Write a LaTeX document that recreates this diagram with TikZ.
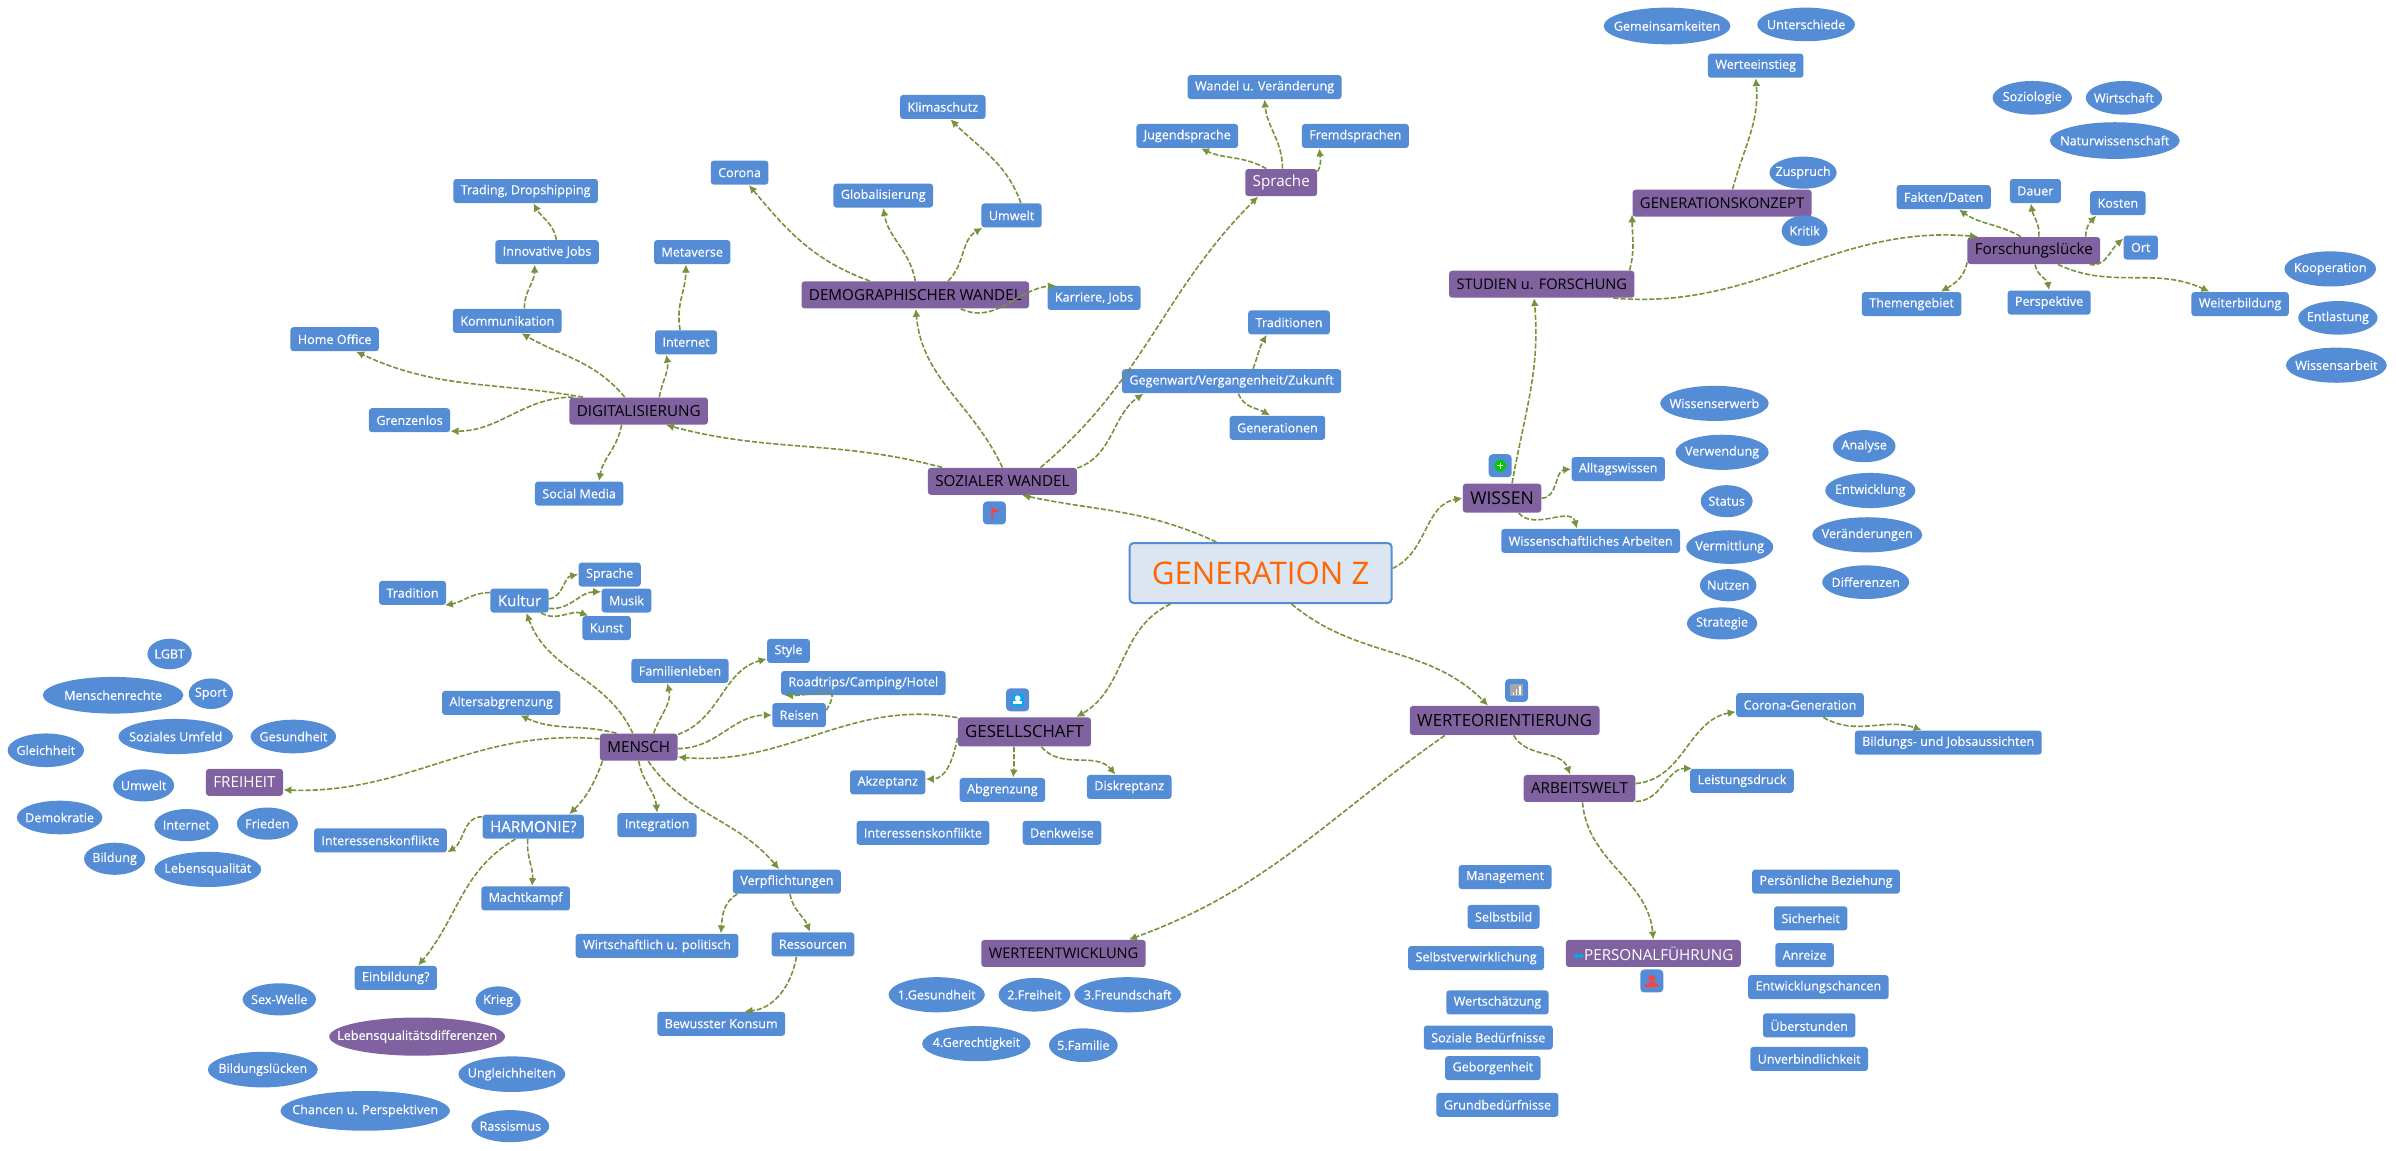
\documentclass[tikz,border=0pt]{standalone}
\usepackage{fontspec}
\setmainfont{Open Sans}[BoldFont={Open Sans}, BoldFeatures={FakeBold=0.4}]
\newfontfamily\symfont{DejaVu Sans}
\usetikzlibrary{shapes.geometric, arrows.meta}
\definecolor{myblue}{RGB}{85, 140, 214}
\definecolor{mypurple}{RGB}{128, 98, 160}
\definecolor{mygreen}{RGB}{118, 146, 60}
\definecolor{myroot}{RGB}{220, 230, 242}
\definecolor{myorange}{RGB}{255, 102, 0}
\definecolor{mycyan}{RGB}{0, 170, 240}
\tikzset{>={Latex[length=4pt,width=4pt]}}
\tikzset{
  box/.style={fill=myblue, rounded corners=1.5pt, text=white, font=\fontsize{6.3}{8}\selectfont\bfseries, minimum height=12pt, inner xsep=3.7pt, inner ysep=0pt},
  bigbox/.style={box, font=\fontsize{7.6}{9}\selectfont\bfseries},
  mainbox/.style={fill=mypurple, rounded corners=1.5pt, text=black, font=\fontsize{7.6}{9}\selectfont, minimum height=13.5pt, inner xsep=3.7pt, inner ysep=0pt},
  bigmain/.style={mainbox, font=\fontsize{8.4}{10}\selectfont, minimum height=14.5pt},
  oval/.style 2 args={ellipse, fill=myblue, text=white, font=\fontsize{6.3}{8}\selectfont\bfseries, inner xsep=-40pt, inner ysep=-12pt, minimum width=#1*0.764pt, minimum height=#2*0.764pt},
  icon/.style={fill=myblue, rounded corners=2pt, minimum size=11.5pt, inner sep=0pt},
  link/.style={->, mygreen, line width=0.8pt, dash pattern=on 2.6pt off 1pt},
}
\begin{document}
\begin{tikzpicture}[x=0.764pt, y=-0.764pt]
\useasboundingbox (0pt,0pt) rectangle (1198pt,-575pt);

\node[fill=myroot, draw=myblue, line width=1pt, rounded corners=2pt, text=myorange, font=\fontsize{15.6}{18}\selectfont, minimum width=131pt, minimum height=30pt] (root) at (825,375) {GENERATION Z};

\node[mainbox] (soz) at (656,315) {SOZIALER WANDEL};
\node[mainbox] (dig) at (418,269) {DIGITALISIERUNG};
\node[mainbox] (dem) at (599,193) {DEMOGRAPHISCHER WANDEL};
\node[mainbox, text=white] (spr) at (838.5,119.5) {Sprache};
\node[mainbox, font=\fontsize{7.3}{9}\selectfont] (stud) at (1009,186) {STUDIEN u. FORSCHUNG};
\node[mainbox, font=\fontsize{7.4}{9}\selectfont] (konz) at (1127,133) {GENERATIONSKONZEPT};
\node[mainbox] (fors) at (1331,164) {Forschungslücke};
\node[bigmain, font=\fontsize{8.8}{10}\selectfont] (wis) at (983,326) {WISSEN};
\node[bigmain] (wert) at (984.7,471.5) {WERTEORIENTIERUNG};
\node[mainbox] (arb) at (1033.7,516) {ARBEITSWELT};
\node[mainbox, text=white] (pers) at (1082,624) {{\symfont\textcolor{mycyan}{\fontsize{6.5}{8}\selectfont ⬅}}PERSONALFÜHRUNG};
\node[mainbox, font=\fontsize{7.3}{9}\selectfont] (entw) at (696,624) {WERTEENTWICKLUNG};
\node[bigmain] (ges) at (670.4,479) {GESELLSCHAFT};
\node[mainbox] (men) at (418,489) {MENSCH};
\node[mainbox, text=white] (frei) at (160,512) {FREIHEIT};

\node[box] (klima) at (617,70) {Klimaschutz};
\node[box] (cor) at (484,113) {Corona};
\node[box] (glob) at (578,128) {Globalisierung};
\node[box] (umw) at (662,141) {Umwelt};
\node[box] (kar) at (716,195) {Karriere, Jobs};
\node[box] (wan) at (827.6,57) {Wandel u. Veränderung};
\node[box] (jug) at (777,89) {Jugendsprache};
\node[box] (fre) at (887,89) {Fremdsprachen};
\node[box] (tra) at (843.6,211) {Traditionen};
\node[box] (geg) at (806,249.5) {Gegenwart/Vergangenheit/Zukunft};
\node[box] (gen) at (836,280) {Generationen};
\node[box] (ein) at (1149,43) {Werteeinstieg};
\node[box] (fak) at (1272,129) {Fakten/Daten};
\node[box] (dau) at (1332,125) {Dauer};
\node[box] (kos) at (1386,133) {Kosten};
\node[box] (ort) at (1401,162) {Ort};
\node[box] (the) at (1251,199) {Themengebiet};
\node[box] (per) at (1341,198) {Perspektive};
\node[box] (wei) at (1466,199) {Weiterbildung};
\node[box] (all) at (1059,307) {Alltagswissen};
\node[box] (arbe) at (1041,354) {Wissenschaftliches Arbeiten};
\node[box] (trd) at (344,125) {Trading, Dropshipping};
\node[box] (inn) at (358,165) {Innovative Jobs};
\node[box] (met) at (453,165) {Metaverse};
\node[box] (kom) at (332,210) {Kommunikation};
\node[box] (int) at (449,224) {Internet};
\node[box] (hom) at (219,222) {Home Office};
\node[box] (gre) at (268,275) {Grenzenlos};
\node[box] (soc) at (379,323) {Social Media};
\node[box] (tdn) at (270,388) {Tradition};
\node[bigbox] (kul) at (340,393) {Kultur};
\node[box] (spa) at (399,376) {Sprache};
\node[box] (mus) at (410,393) {Musik};
\node[box] (kun) at (397,411) {Kunst};
\node[box] (sty) at (516,426) {Style};
\node[box] (fam) at (445,439) {Familienleben};
\node[box] (roa) at (565,447) {Roadtrips/Camping/Hotel};
\node[box] (rei) at (523,468) {Reisen};
\node[box] (alt) at (328,460) {Altersabgrenzung};
\node[box] (akz) at (581,512) {Akzeptanz};
\node[box] (abg) at (656,517) {Abgrenzung};
\node[box] (dis) at (739,515) {Diskreptanz};
\node[box] (ikg) at (604,545) {Interessenskonflikte};
\node[box] (den) at (695,545) {Denkweise};
\node[box] (ikh) at (249,550) {Interessenskonflikte};
\node[bigbox] (har) at (349,541) {HARMONIE?};
\node[box] (ing) at (430,540) {Integration};
\node[box] (mac) at (344,588) {Machtkampf};
\node[box] (ver) at (515,577) {Verpflichtungen};
\node[box] (wir) at (430,619) {Wirtschaftlich u. politisch};
\node[box] (res) at (532,618) {Ressourcen};
\node[box] (bil) at (259,640) {Einbildung?};
\node[box] (bew) at (472,670) {Bewusster Konsum};
\node[box] (cog) at (1178,461.4) {Corona-Generation\ };
\node[box] (job) at (1275,486) {Bildungs- und Jobsaussichten};
\node[box] (lei) at (1140,511) {Leistungsdruck};
\node[box] (man) at (985,574) {Management};
\node[box] (sel) at (984,600) {Selbstbild};
\node[box] (svw) at (966,627) {Selbstverwirklichung};
\node[box] (wsc) at (980,656) {Wertschätzung};
\node[box] (sob) at (974,679) {Soziale Bedürfnisse};
\node[box] (geb) at (977,699) {Geborgenheit};
\node[box] (gru) at (980,723) {Grundbedürfnisse};
\node[box] (pbz) at (1195,577) {Persönliche Beziehung};
\node[box] (sic) at (1185,601) {Sicherheit};
\node[box] (anr) at (1181,625) {Anreize};
\node[box] (ewc) at (1190,646) {Entwicklungschancen};
\node[box] (ube) at (1184,671) {Überstunden};
\node[box] (unv) at (1184,693) {Unverbindlichkeit};

\node[oval={83}{24}] (o1) at (1091,17) {Gemeinsamkeiten};
\node[oval={64}{22}] (o2) at (1182,16) {Unterschiede};
\node[oval={44}{21}] (o3) at (1180,113) {Zuspruch};
\node[oval={30}{20}] (o4) at (1181,151) {Kritik};
\node[oval={52}{22}] (o5) at (1330,64) {Soziologie};
\node[oval={50}{22}] (o6) at (1390,64) {Wirtschaft};
\node[oval={85}{24}] (o7) at (1384,92) {Naturwissenschaft};
\node[oval={60}{23}] (o8) at (1525,176) {Kooperation};
\node[oval={52}{22}] (o9) at (1530,208) {Entlastung};
\node[oval={66}{23}] (o10) at (1529,239) {Wissensarbeit};
\node[oval={71}{23}] (o11) at (1122,264) {Wissenserwerb};
\node[oval={61}{23}] (o12) at (1127,296) {Verwendung};
\node[oval={34}{21}] (o13) at (1130,328) {Status};
\node[oval={57}{22}] (o14) at (1132,358) {Vermittlung};
\node[oval={37}{21}] (o15) at (1131,383) {Nutzen};
\node[oval={46}{21}] (o16) at (1127,408) {Strategie};
\node[oval={41}{21}] (o17) at (1220,292) {Analyse};
\node[oval={59}{23}] (o18) at (1224,321) {Entwicklung};
\node[oval={72}{23}] (o19) at (1222,350) {Veränderungen};
\node[oval={57}{22}] (o20) at (1221,381) {Differenzen};
\node[oval={29}{20}] (o21) at (111,428) {LGBT};
\node[oval={92}{24}] (o22) at (74,455) {Menschenrechte};
\node[oval={29}{20}] (o23) at (138,454) {Sport};
\node[oval={56}{22}] (o24) at (192,482) {Gesundheit};
\node[oval={75}{23}] (o25) at (115,482) {Soziales Umfeld};
\node[oval={50}{22}] (o26) at (30,491) {Gleichheit};
\node[oval={40}{21}] (o27) at (94,514) {Umwelt};
\node[oval={56}{22}] (o28) at (39,535) {Demokratie};
\node[oval={42}{21}] (o29) at (122,540) {Internet};
\node[oval={40}{21}] (o30) at (175,539) {Frieden};
\node[oval={40}{21}] (o31) at (75,562) {Bildung};
\node[oval={70}{23}] (o32) at (136,569) {Lebensqualität};
\node[oval={48}{21}] (o33) at (182.8,654) {Sex-Welle};
\node[oval={29.5}{19}] (o34) at (326,655) {Krieg};
\node[oval={115}{25}, fill=mypurple] (o35) at (273,678.4) {Lebensqualitätsdifferenzen};
\node[oval={72}{23.3}] (o36) at (172,700) {Bildungslücken};
\node[oval={70}{23.3}] (o37) at (335,703) {Ungleichheiten};
\node[oval={110.8}{26}] (o38) at (239,727) {Chancen u. Perspektiven};
\node[oval={51}{21}] (o39) at (334,737) {Rassismus};
\node[oval={63}{23}] (o40) at (613,651) {1.Gesundheit};
\node[oval={47}{22}] (o41) at (677,651) {2.Freiheit};
\node[oval={70}{23}] (o42) at (738,651) {3.Freundschaft};
\node[oval={71}{23}] (o43) at (639,683) {4.Gerechtigkeit};
\node[oval={45}{22}] (o44) at (709,684) {5.Familie};

\node[icon] (icsoz) at (650.8,335.7) {};
\node[icon] (icges) at (666,458) {};
\node[icon] (icwis) at (981.8,304.8) {};
\node[icon] (icwert) at (992.5,451.8) {};
\node[icon] (icpers) at (1081,642) {};
\fill[red!75!white] ([shift={(-2,-4)}]icsoz.center) -- ++(1,0) -- ++(0,1) -- ++(4.5,1.5) -- ++(-4.5,1.5) -- ++(0,4) -- ++(-1,0) -- cycle;
\fill[mycyan] ([shift={(-4,-4)}]icges.center) rectangle ([shift={(4,4)}]icges.center);
\fill[white] ([shift={(0,-1)}]icges.center) circle [radius=1.9];
\fill[white] ([shift={(-3,3)}]icges.center) rectangle ([shift={(3,1)}]icges.center);
\fill[green!80!black] (icwis.center) circle [radius=3.8];
\draw[white, line width=0.6pt] ([shift={(-2,0)}]icwis.center) -- ([shift={(2,0)}]icwis.center) ([shift={(0,-2)}]icwis.center) -- ([shift={(0,2)}]icwis.center);
\fill[gray!70] ([shift={(-4,-4)}]icwert.center) rectangle ([shift={(4,4)}]icwert.center);
\fill[white] ([shift={(-2.6,3)}]icwert.center) rectangle ([shift={(-1.4,1.2)}]icwert.center);
\fill[white] ([shift={(-0.6,3)}]icwert.center) rectangle ([shift={(0.6,-0.6)}]icwert.center);
\fill[white] ([shift={(1.4,3)}]icwert.center) rectangle ([shift={(2.6,-2.6)}]icwert.center);
\fill[red!75!white] ([shift={(0,-1.8)}]icpers.center) circle [radius=2.2];
\fill[red!75!white] ([shift={(-4.5,3.8)}]icpers.center) to[out=90, in=180] ([shift={(0,0.8)}]icpers.center) to[out=0, in=90] ([shift={(4.5,3.8)}]icpers.center) -- cycle;

\draw[link] (root.145) to[out=155, in=-12] (soz.-35);
\draw[link] (root.2) to[out=25, in=190] (wis.west);
\draw[link] (root.-161) to[out=205, in=30] (ges.16);
\draw[link] (root.-45) to[out=-40, in=135] (wert.138);
\draw[link] (soz.167) to[out=165, in=-15] (dig.-27);
\draw[link] (soz.90) to[out=115, in=-85] (dem.-88);
\draw[link] (soz.20) to[out=40, in=225] (spr.211);
\draw[link] (soz.10) to[out=20, in=215] (geg.188);
\draw[link] (dem.163) to[out=160, in=-50] (cor.-53);
\draw[link] (dem.90) to[out=100, in=-80] (glob.-90);
\draw[link] (dem.23) to[out=45, in=210] (umw.203);
\draw[link] (dem.-17) to[out=-25, in=185] (kar.162);
\draw[link] (umw.53) to[out=110, in=-45] (klima.-58);
\draw[link] (spr.85) to[out=90, in=-85] (wan.-90);
\draw[link] (spr.137) to[out=150, in=-25] (jug.-42);
\draw[link] (spr.17) to[out=60, in=-85] (fre.199);
\draw[link] (geg.30) to[out=70, in=-120] (tra.209);
\draw[link] (geg.-61) to[out=-70, in=150] (gen.121);
\draw[link] (wis.56) to[out=80, in=-85] (stud.-119);
\draw[link] (wis.0) to[out=0, in=185] (all.west);
\draw[link] (wis.-42) to[out=-50, in=105] (arbe.138);
\draw[link] (stud.9) to[out=75, in=-90] (konz.187);
\draw[link] (stud.-11) to[out=-5, in=175] (fors.166);
\draw[link] (konz.53) to[out=75, in=-85] (ein.-90);
\draw[link] (fors.133) to[out=150, in=-35] (fak.-39);
\draw[link] (fors.70) to[out=85, in=-80] (dau.-110);
\draw[link] (fors.15) to[out=90, in=-135] (kos.210);
\draw[link] (fors.-14) to[out=-10, in=-140] (ort.153);
\draw[link] (fors.-170) to[out=-100, in=30] (the.23);
\draw[link] (fors.-85) to[out=-80, in=100] (per.90);
\draw[link] (fors.-30) to[out=-25, in=155] (wei.158);
\draw[link] (dig.166) to[out=170, in=-25] (hom.-30);
\draw[link] (dig.168) to[out=180, in=0] (gre.-15);
\draw[link] (dig.135) to[out=130, in=-30] (kom.-41);
\draw[link] (dig.34) to[out=80, in=-80] (int.212);
\draw[link] (dig.-141) to[out=-100, in=80] (soc.32);
\draw[link] (kom.36) to[out=90, in=-90] (inn.225);
\draw[link] (inn.53) to[out=100, in=-60] (trd.-58);
\draw[link] (int.116) to[out=100, in=-90] (met.-117);
\draw[link] (ges.168) to[out=170, in=-5] (men.-14);
\draw[link] (ges.-175) to[out=-100, in=0] (akz.5);
\draw[link] (ges.-125) to[out=-90, in=85] (abg.49);
\draw[link] (ges.-41) to[out=-50, in=130] (dis.138);
\draw[link] (men.113) to[out=115, in=-70] (kul.-61);
\draw[link] (men.43) to[out=70, in=-75] (fam.224);
\draw[link] (men.18) to[out=20, in=195] (sty.200);
\draw[link] (men.-2) to[out=0, in=180] (rei.west);
\draw[link] (men.148) to[out=165, in=-25] (alt.-33);
\draw[link] (men.168) to[out=175, in=-2] (frei.-11);
\draw[link] (men.-159) to[out=-110, in=45] (har.19);
\draw[link] (men.-90) to[out=-80, in=95] (ing.90);
\draw[link] (men.-56) to[out=-55, in=130] (ver.122);
\draw[link] (rei.10) to[out=60, in=0, looseness=2] (roa.189);
\draw[link] (kul.3) to[out=10, in=190] (spa.west);
\draw[link] (kul.-15) to[out=-5, in=180] (mus.161);
\draw[link] (kul.-30) to[out=-30, in=160] (kun.146);
\draw[link] (kul.165) to[out=180, in=10] (tdn.-21);
\draw[link] (har.169) to[out=180, in=30] (ikh.-10);
\draw[link] (har.-145) to[out=-150, in=50] (bil.29);
\draw[link] (har.-114) to[out=-95, in=85] (mac.63);
\draw[link] (ver.-166) to[out=-150, in=85] (wir.11);
\draw[link] (ver.-76) to[out=-80, in=110] (res.104);
\draw[link] (res.-143) to[out=-100, in=5] (bew.28);
\draw[link] (wert.-166) to[out=-145, in=20] (entw.12);
\draw[link] (wert.-59) to[out=-60, in=110] (arb.124);
\draw[link] (arb.5) to[out=5, in=190] (cog.186);
\draw[link] (arb.-13) to[out=0, in=180] (lei.166);
\draw[link] (arb.-78) to[out=-85, in=95] (pers.90);
\draw[link] (cog.-28) to[out=-30, in=160] (job.155);
\end{tikzpicture}
\end{document}
